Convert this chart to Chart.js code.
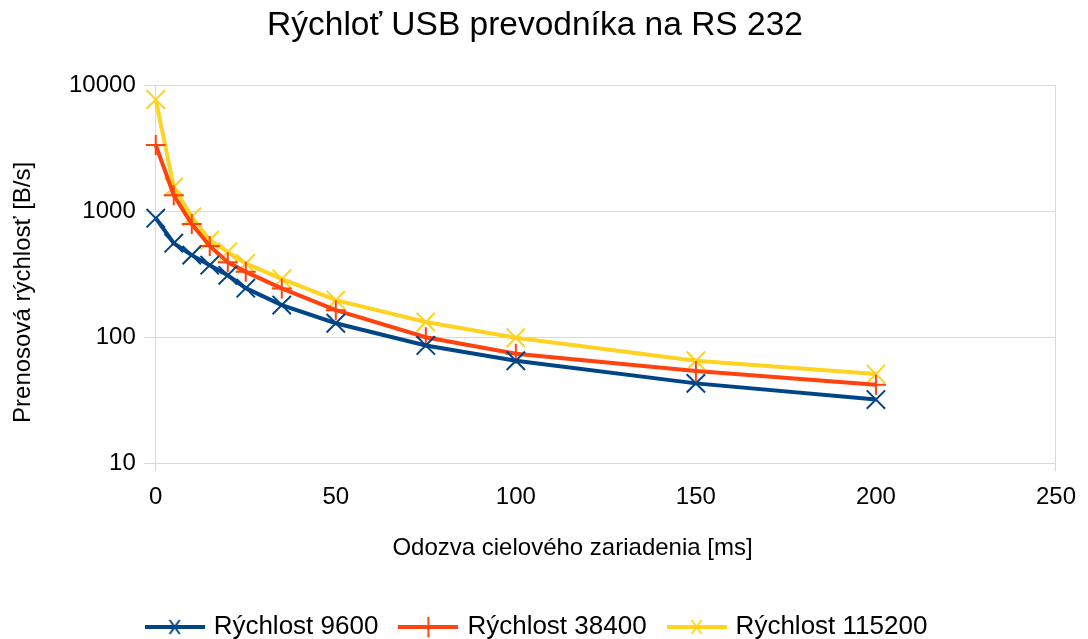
<!DOCTYPE html>
<html>
<head>
<meta charset="utf-8">
<script src="https://cdn.jsdelivr.net/npm/chart.js@4/dist/chart.umd.min.js"></script>
<style>
  html, body { margin: 0; padding: 0; background: #fff; }
  #wrap { width: 1088px; height: 639px; }
</style>
</head>
<body>
<div id="wrap"><canvas id="chart" width="1088" height="639"></canvas></div>
<script>
// odozva cieloveho zariadenia [ms]
const delays = [0, 5, 10, 15, 20, 25, 35, 50, 75, 100, 150, 200];

const speed9600 = [880, 557, 448, 373, 310, 245, 180, 129, 86, 65, 43, 32];
const speed38400 = [3350, 1340, 790, 530, 394, 330, 244, 164, 100, 74, 54, 42];
const speed115200 = [7700, 1560, 900, 589, 475, 385, 290, 197, 132, 99, 65, 51];

const seriesNames = ['Rýchlost 9600', 'Rýchlost 38400', 'Rýchlost 115200'];
const colors = ['#004586', '#ff420e', '#ffd320'];
const markers = ['crossRot', 'cross', 'crossRot'];
const markerSize = [13, 10, 13];
const yTicks = [10, 100, 1000, 10000];

const xTitle = 'Odozva cielového zariadenia [ms]';
const yTitle = 'Prenosová rýchlosť [B/s]';

const font = "'Liberation Sans', Arial, sans-serif";
const gridColor = '#d9d9d9';

function toPoints(vals) {
  return delays.map(function (d, i) { return { x: d, y: vals[i] }; });
}

// small image for legend: line with marker
function legendIcon(color, style) {
  const c = document.createElement('canvas');
  c.width = 60; c.height = 22;
  const ctx = c.getContext('2d');
  ctx.strokeStyle = color;
  ctx.lineWidth = 4;
  ctx.beginPath();
  ctx.moveTo(0, 11); ctx.lineTo(60, 11);
  ctx.stroke();
  ctx.lineWidth = 2;
  ctx.beginPath();
  if (style === 'cross') {
    ctx.moveTo(30, 1); ctx.lineTo(30, 21);
  } else {
    ctx.moveTo(25, 4); ctx.lineTo(35, 18);
    ctx.moveTo(35, 4); ctx.lineTo(25, 18);
  }
  ctx.stroke();
  return c;
}

// axis titles centred like the office chart does it (over the labels, not the plot)
const axisTitles = {
  id: 'axisTitles',
  afterLayout: function (chart) {
    chart.legend.left += 10; chart.legend.right += 10;
    chart.titleBlock.left += 7; chart.titleBlock.right += 7;
  },
  afterDraw: function (chart) {
    const ctx = chart.ctx;
    const area = chart.chartArea;
    const xs = chart.scales.x, ys = chart.scales.y;
    ctx.save();
    ctx.fillStyle = '#000';
    ctx.font = '24px ' + font;
    ctx.textAlign = 'center';
    ctx.textBaseline = 'middle';
    const wY = ctx.measureText(String(yTicks[yTicks.length - 1])).width;
    const wX = ctx.measureText(String(xs.max)).width;
    const cx = ((area.left - 20 - wY) + (area.right + wX / 2)) / 2;
    ctx.fillText(xTitle, cx, xs.bottom - 41.5);
    const cy = ((area.top - 14.4) + (area.bottom + 50.8)) / 2;
    ctx.translate(ys.left + 23, cy);
    ctx.rotate(-Math.PI / 2);
    ctx.fillText(yTitle, 0, 0);
    ctx.restore();
  }
};

const allSeries = [speed9600, speed38400, speed115200];
const datasets = allSeries.map(function (vals, i) {
  return {
    label: seriesNames[i],
    data: toPoints(vals),
    borderColor: colors[i],
    backgroundColor: colors[i],
    borderWidth: 4,
    pointStyle: markers[i],
    pointRadius: markerSize[i],
    pointHoverRadius: markerSize[i],
    pointBorderWidth: 2,
    tension: 0,
    clip: false,
    fill: false
  };
});

new Chart(document.getElementById('chart'), {
  type: 'line',
  data: { datasets: datasets },
  plugins: [axisTitles],
  options: {
    responsive: false,
    animation: false,
    layout: { padding: { left: 0, right: 32, top: 0, bottom: -11 } },
    plugins: {
      title: {
        display: true,
        text: 'Rýchloť USB prevodníka na RS 232',
        color: '#000',
        font: { family: font, size: 33.5, weight: 'normal' },
        padding: { top: 6, bottom: 39 }
      },
      legend: {
        position: 'bottom',
        labels: {
          color: '#000',
          font: { family: font, size: 26 },
          boxHeight: 22,
          pointStyleWidth: 52,
          padding: 24,
          usePointStyle: true,
          generateLabels: function (chart) {
            return chart.data.datasets.map(function (ds, i) {
              return {
                text: ds.label,
                pointStyle: legendIcon(colors[i], markers[i]),
                fillStyle: colors[i],
                strokeStyle: colors[i],
                lineWidth: 0,
                datasetIndex: i,
                fontColor: '#000'
              };
            });
          }
        }
      },
      tooltip: { enabled: false }
    },
    scales: {
      x: {
        type: 'linear',
        min: 0,
        max: 250,
        afterFit: function (scale) { scale.height += 66; },
        ticks: {
          stepSize: 50,
          color: '#000',
          font: { family: font, size: 24 },
          padding: 12
        },
        grid: {
          drawTicks: true,
          tickLength: 8,
          color: function (ctx) {
            return (ctx.tick && (ctx.tick.value === 0 || ctx.tick.value === 250)) ? gridColor : 'rgba(0,0,0,0)';
          }
        },
        border: { color: gridColor }
      },
      y: {
        type: 'logarithmic',
        min: 10,
        max: 10000,
        afterBuildTicks: function (axis) {
          axis.ticks = yTicks.map(function (v) { return { value: v }; });
        },
        afterFit: function (scale) { scale.width += 61; },
        ticks: {
          color: '#000',
          font: { family: font, size: 24 },
          padding: 8,
          callback: function (v) { return String(v); }
        },
        grid: { color: gridColor, tickLength: 12, lineWidth: 1 },
        border: { color: gridColor }
      }
    }
  }
});
</script>
</body>
</html>
